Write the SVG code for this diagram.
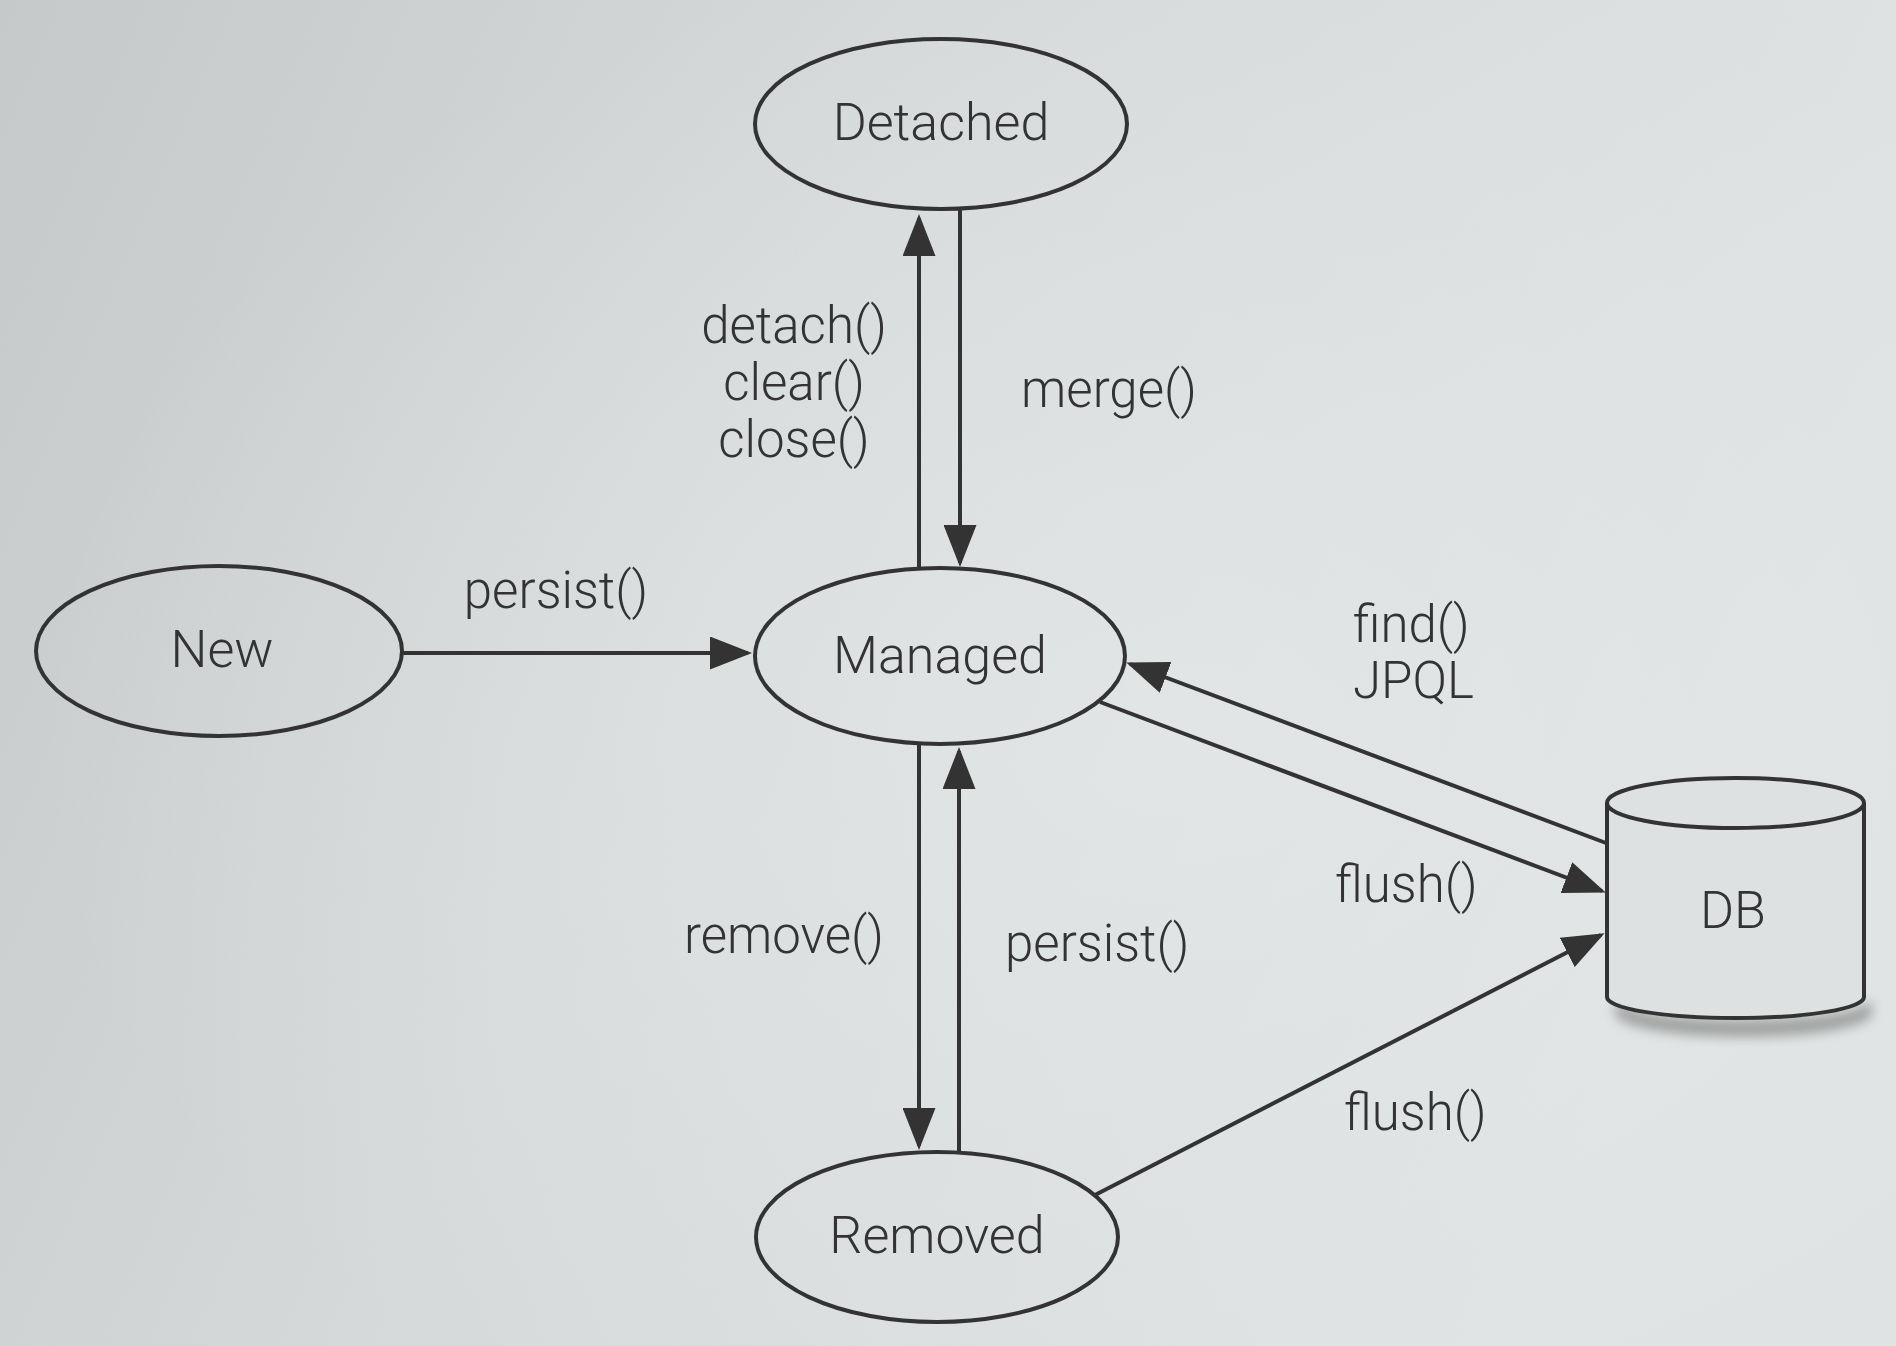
<svg xmlns="http://www.w3.org/2000/svg" width="1896" height="1346" viewBox="0 0 1896 1346">
<defs>
<linearGradient id="bg" x1="0" y1="0" x2="1" y2="0.3">
<stop offset="0" stop-color="#c5c9ca"/>
<stop offset="0.45" stop-color="#d5d9da"/>
<stop offset="1" stop-color="#dfe3e3"/>
</linearGradient>
<radialGradient id="glow" cx="0.62" cy="0.55" r="0.6">
<stop offset="0" stop-color="#e4e8e8" stop-opacity="0.7"/>
<stop offset="1" stop-color="#e4e8e8" stop-opacity="0"/>
</radialGradient>
<filter id="blur" x="-20%" y="-20%" width="140%" height="140%">
<feGaussianBlur stdDeviation="6"/>
</filter>
<marker id="arr" markerUnits="userSpaceOnUse" markerWidth="42" markerHeight="33" refX="38" refY="16.5" orient="auto">
<path d="M0,0 L42,16.5 L0,33 z" fill="#333"/>
</marker>
<style>
.node{fill:none;stroke:#333;stroke-width:4}
.conn{fill:none;stroke:#333;stroke-width:4;marker-end:url(#arr)}
.nt{font-family:Roboto,"Liberation Sans",Arial,sans-serif;font-weight:300;font-size:52px;fill:#333;text-anchor:middle}
.lt{font-family:Roboto,"Liberation Sans",Arial,sans-serif;font-weight:300;font-size:51px;fill:#333}
</style>
</defs>
<rect x="0" y="0" width="1896" height="1346" fill="url(#bg)"/>
<rect x="0" y="0" width="1896" height="1346" fill="url(#glow)"/>

<g id="connectors">
<path class="conn" d="M402,653 H748"/>
<path class="conn" d="M919,569 V218"/>
<path class="conn" d="M960,209 V563"/>
<path class="conn" d="M919,744 V1146"/>
<path class="conn" d="M959,1153 V751"/>
<path class="conn" d="M1606,843 L1130,664"/>
<path class="conn" d="M1100,702 L1602,891"/>
<path class="conn" d="M1095,1195 L1601,935"/>
</g>

<g id="labels">
<text class="lt" x="556" y="608" text-anchor="middle">persist()</text>
<text class="lt" x="794" y="343" text-anchor="middle">detach()</text>
<text class="lt" x="794" y="400" text-anchor="middle">clear()</text>
<text class="lt" x="794" y="457" text-anchor="middle">close()</text>
<text class="lt" x="1109" y="407" text-anchor="middle">merge()</text>
<text class="lt" x="1353" y="642">find()</text>
<text class="lt" x="1353" y="698">JPQL</text>
<text class="lt" x="1335" y="902">flush()</text>
<text class="lt" x="884" y="953" text-anchor="end">remove()</text>
<text class="lt" x="1005" y="961">persist()</text>
<text class="lt" x="1344" y="1130">flush()</text>
</g>

<g id="node-detached">
<ellipse class="node" cx="941" cy="124" rx="186" ry="85"/>
<text class="nt" x="941" y="140">Detached</text>
</g>
<g id="node-new">
<ellipse class="node" cx="219" cy="651" rx="183" ry="85"/>
<text class="nt" x="222" y="667">New</text>
</g>
<g id="node-managed">
<ellipse class="node" cx="940" cy="656" rx="185" ry="88"/>
<text class="nt" x="940" y="673">Managed</text>
</g>
<g id="node-removed">
<ellipse class="node" cx="937" cy="1237" rx="181" ry="85"/>
<text class="nt" x="937" y="1253">Removed</text>
</g>
<g id="node-db">
<path d="M1615,998 A128.5,22 0 0 0 1872,998 L1872,993 L1872,1013 A128.5,24 0 0 1 1615,1013 z" fill="#6a6a6a" opacity="0.55" filter="url(#blur)"/>
<path d="M1607,803 L1607,997 A128.5,21 0 0 0 1864,997 L1864,803" fill="#dde1e1" stroke="#333" stroke-width="4"/>
<ellipse cx="1735.5" cy="803" rx="128.5" ry="25" fill="#dde1e1" stroke="#333" stroke-width="4"/>
<text class="nt" x="1733" y="928">DB</text>
</g>
</svg>
